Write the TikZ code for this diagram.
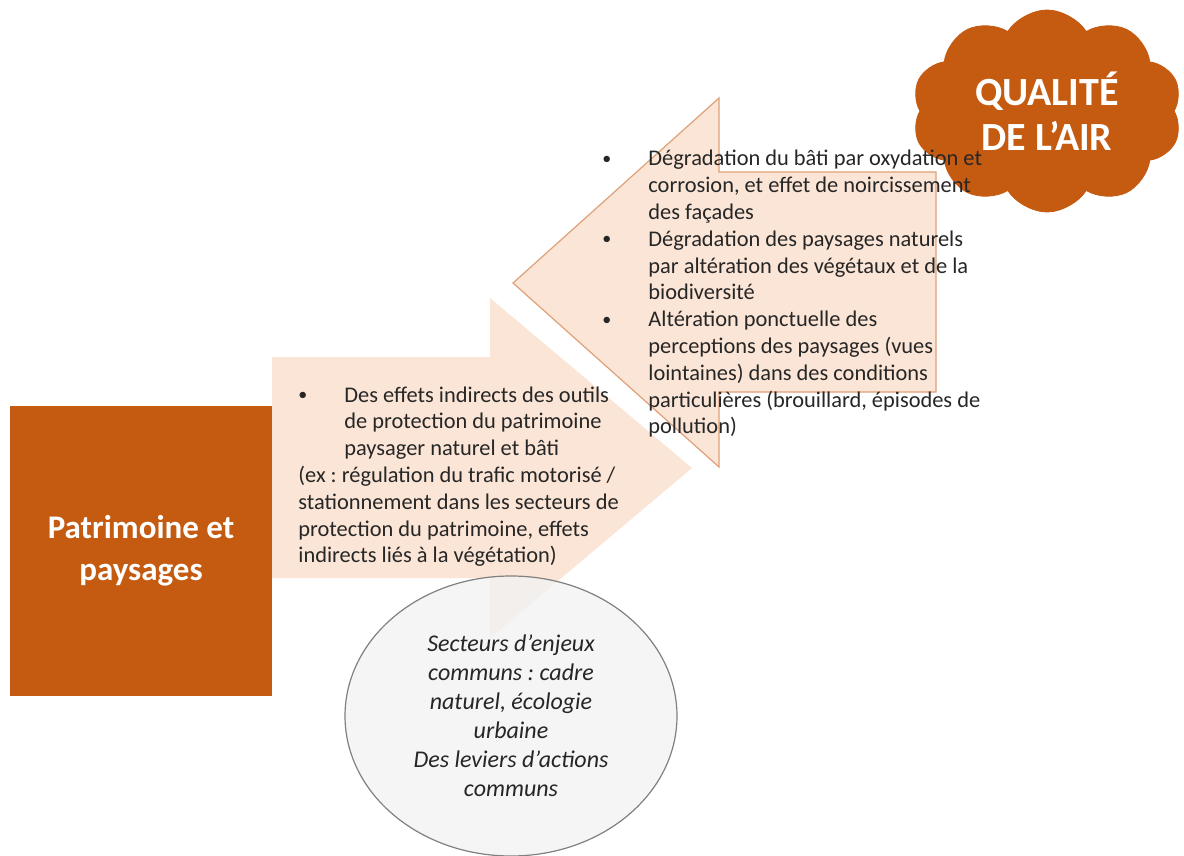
\documentclass[tikz,border=0pt]{standalone}
\usepackage{fontspec}
\setmainfont{Carlito}
\usepackage{tikz}
\usetikzlibrary{shapes.geometric,shapes.symbols}
\definecolor{rouille}{HTML}{C55A11}
\definecolor{peche}{HTML}{FBE5D6}
\definecolor{bordpeche}{HTML}{DFA077}
\definecolor{grisclair}{HTML}{F2F2F2}
\frenchspacing

\begin{document}
\begin{tikzpicture}[
    x=0.5pt, y=-0.5pt,
    fleche/.style={fill=peche, draw=none},
    flechebord/.style={fill=peche, draw=bordpeche, line width=0.6pt, line join=miter},
    theme/.style={fill=rouille, text=white, inner sep=0pt, align=center, font=\fontsize{16.5}{21}\selectfont\bfseries},
    nuage/.style={cloud, cloud puffs=10, cloud puff arc=115, aspect=1.35, fill=rouille, draw=rouille, text=white, align=center, inner sep=0pt, minimum width=135pt, minimum height=101pt, font=\fontsize{20}{22.5}\selectfont\bfseries},
    enjeux/.style={ellipse, draw=black!50, line width=0.6pt, fill=grisclair, fill opacity=0.8, text opacity=1, align=center, inner sep=0pt, minimum width=166pt, minimum height=140pt, font=\fontsize{12}{14.5}\selectfont\itshape, text=black!85},
    corps/.style={inner sep=0pt, anchor=base west, text=black!85, font=\fontsize{11.2}{13.4}\selectfont}
]
\useasboundingbox (0,0) rectangle (1184,856);

% fleches de fond
\path[fleche] (272,357) -- (490,357) -- (490,298) -- (692,468) -- (490,638) -- (490,578) -- (272,578) -- cycle;
\path[flechebord] (936,172) -- (719,172) -- (719,98) -- (513,283) -- (719,467) -- (719,392) -- (936,392) -- cycle;

\node[enjeux] (communs) at (511,716) {Secteurs d’enjeux\\communs : cadre\\naturel, écologie\\urbaine\\Des leviers d’actions\\communs};
\node[theme, minimum width=131pt, minimum height=145pt] (patrimoine) at (141,551) {Patrimoine et\\paysages};
\node[nuage] (qualite) at (1047,111) {QUALITÉ\\DE L’AIR};

% textes des fleches
\node[corps] (effetsair) at (602,166) {%
\begin{tabular}[t]{@{}p{23pt}@{}l@{}}
\raisebox{0.8pt}{\fontsize{9}{9}\selectfont\textbullet} & Dégradation du bâti par oxydation et\\
 & corrosion, et effet de noircissement\\
 & des façades\\
\raisebox{0.8pt}{\fontsize{9}{9}\selectfont\textbullet} & Dégradation des paysages naturels\\
 & par altération des végétaux et de la\\
 & biodiversité\\
\raisebox{0.8pt}{\fontsize{9}{9}\selectfont\textbullet} & Altération ponctuelle des\\
 & perceptions des paysages (vues\\
 & lointaines) dans des conditions\\
 & particulières (brouillard, épisodes de\\
 & pollution)
\end{tabular}};

\node[corps] (effetspatrimoine) at (298,402) {%
\begin{tabular}[t]{@{}p{23pt}@{}l@{}}
\raisebox{0.8pt}{\fontsize{9}{9}\selectfont\textbullet} & Des effets indirects des outils\\
 & de protection du patrimoine\\
 & paysager naturel et bâti\\
\multicolumn{2}{@{}l@{}}{(ex : régulation du trafic motorisé /}\\
\multicolumn{2}{@{}l@{}}{stationnement dans les secteurs de}\\
\multicolumn{2}{@{}l@{}}{protection du patrimoine, effets}\\
\multicolumn{2}{@{}l@{}}{indirects liés à la végétation)}
\end{tabular}};
\end{tikzpicture}
\end{document}
